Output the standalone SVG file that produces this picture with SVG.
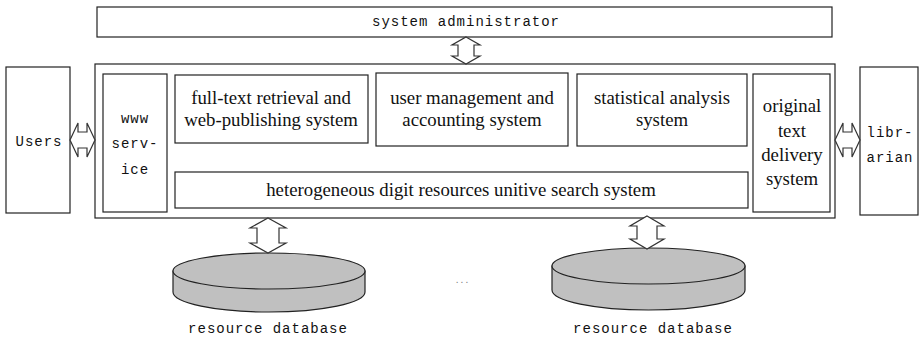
<svg xmlns="http://www.w3.org/2000/svg" width="922" height="338" viewBox="0 0 922 338">
<style>
.box{fill:#fff;stroke:#222;stroke-width:1.2}
.arr{fill:#fff;stroke:#333;stroke-width:1.2;stroke-linejoin:miter}
.cyl{fill:#c0c0c0;stroke:#222;stroke-width:1.2}
.serif{font-family:"Liberation Serif","Times New Roman",serif;font-size:18.8px;fill:#111;text-anchor:middle}
.mono{font-family:"Liberation Mono","Courier New",monospace;font-size:14px;letter-spacing:1px;fill:#111;text-anchor:middle}
</style>
<rect width="922" height="338" fill="#fff"/>
<g id="admin">
<rect class="box" x="97" y="7" width="735" height="30"/>
<text class="mono" x="466" y="26">system administrator</text>
</g>
<g id="platform">
<rect class="box" x="95" y="64" width="740" height="154"/>
</g>
<g id="users">
<rect class="box" x="6" y="67" width="64" height="146"/>
<text class="mono" x="39" y="146">Users</text>
</g>
<g id="www">
<rect class="box" x="103" y="74" width="64" height="138"/>
<text class="mono" x="135" y="123">www</text>
<text class="mono" x="135" y="148">serv-</text>
<text class="mono" x="135" y="174">ice</text>
</g>
<g id="fulltext">
<rect class="box" x="175" y="75" width="193" height="68"/>
<text class="serif" x="271" y="104">full-text retrieval and</text>
<text class="serif" x="271" y="126">web-publishing system</text>
</g>
<g id="usermgmt">
<rect class="box" x="376" y="73" width="192" height="73"/>
<text class="serif" x="472" y="104">user management and</text>
<text class="serif" x="472" y="126">accounting system</text>
</g>
<g id="stats">
<rect class="box" x="577" y="74" width="170" height="72"/>
<text class="serif" x="662" y="104">statistical analysis</text>
<text class="serif" x="662" y="126">system</text>
</g>
<g id="delivery">
<rect class="box" x="753" y="74" width="77" height="138"/>
<text class="serif" x="792" y="112">original</text>
<text class="serif" x="792" y="137">text</text>
<text class="serif" x="792" y="161">delivery</text>
<text class="serif" x="792" y="185">system</text>
</g>
<g id="search">
<rect class="box" x="175" y="172" width="573" height="36"/>
<text class="serif" x="461" y="196">heterogeneous digit resources unitive search system</text>
</g>
<g id="librarian">
<rect class="box" x="860" y="67" width="58" height="148"/>
<text class="mono" x="890" y="137">libr-</text>
<text class="mono" x="890" y="162">arian</text>
</g>
<g id="db1">
<path class="cyl" d="M173,271 L173,292 A96,20 0 0 0 365,292 L365,271 Z"/>
<ellipse class="cyl" cx="269" cy="271" rx="96" ry="18"/>
<text class="mono" x="268" y="333">resource database</text>
</g>
<g id="db2">
<path class="cyl" d="M552,266 L552,290 A96.5,20 0 0 0 745,290 L745,266 Z"/>
<ellipse class="cyl" cx="648.5" cy="266" rx="96.5" ry="18"/>
<text class="mono" x="653" y="333">resource database</text>
</g>
<g id="ellipsis">
<text x="463" y="283" font-family="Liberation Sans, Arial, sans-serif" font-size="10" fill="#777" text-anchor="middle" letter-spacing="2">...</text>
</g>
<g id="connectors">
<polygon class="arr" points="466,37 480,45 474,45 474,56 480,56 466,64 452,56 458,56 458,45 452,45"/>
<polygon class="arr" points="70,140 78,123 78,132 87,132 87,123 95,140 87,157 87,148 78,148 78,157"/>
<polygon class="arr" points="835,140 843,123 843,132 852,132 852,123 860,140 852,157 852,148 843,148 843,157"/>
<polygon class="arr" points="268,218 286,228 279,228 279,243 286,243 268,253 250,243 257,243 257,228 250,228"/>
<polygon class="arr" points="647,216 664,226 657,226 657,239 664,239 647,249 630,239 637,239 637,226 630,226"/>
</g>
</svg>
